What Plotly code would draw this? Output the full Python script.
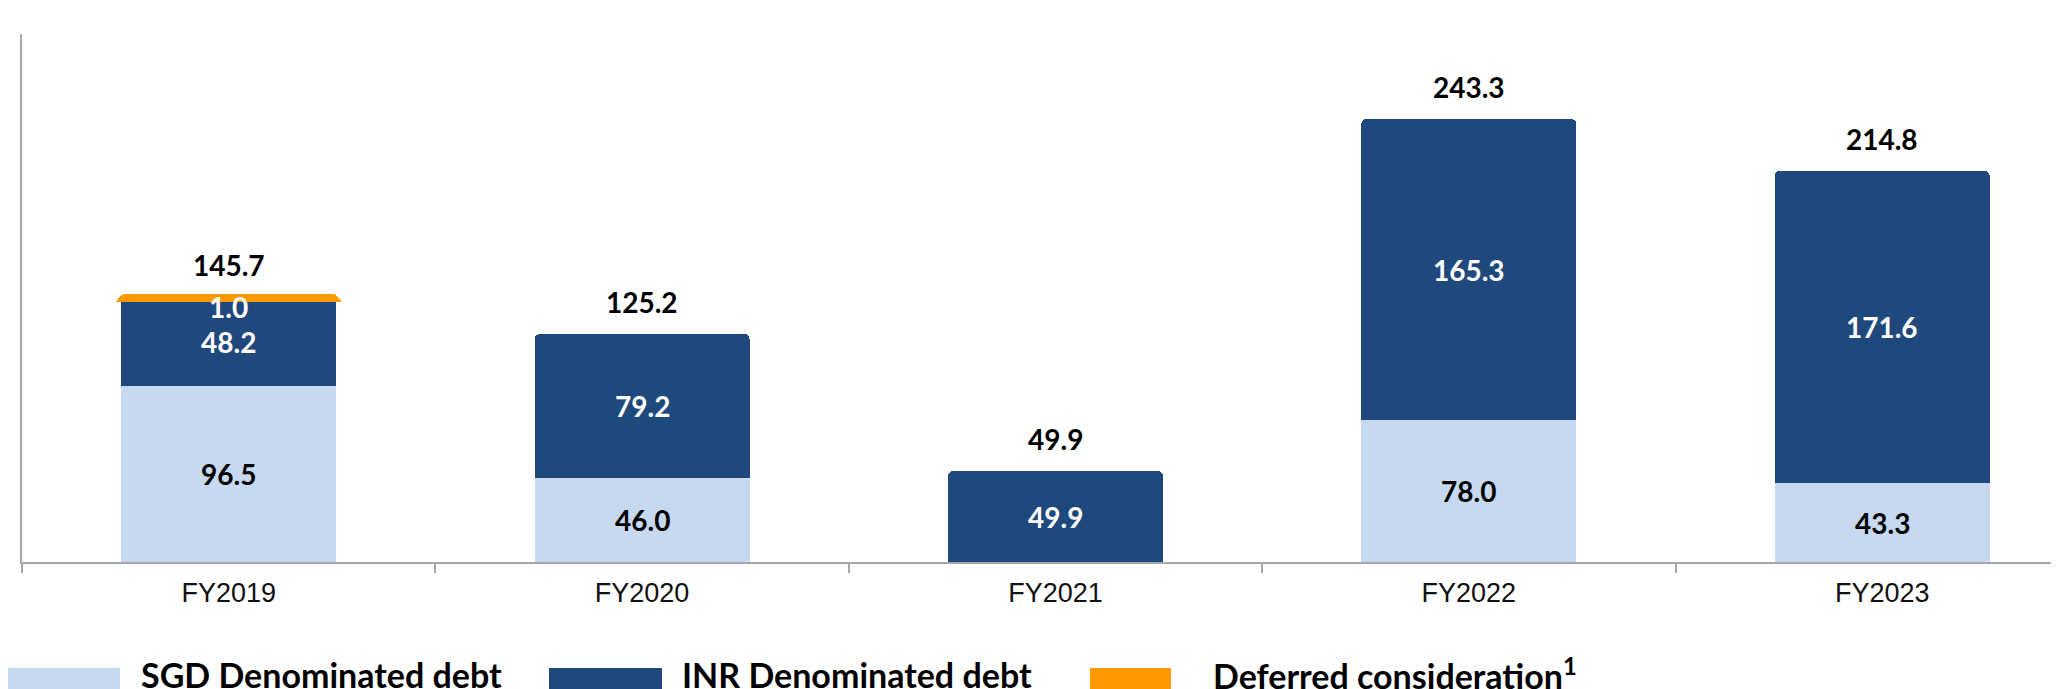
import plotly.graph_objects as go

years = ["FY2019", "FY2020", "FY2021", "FY2022", "FY2023"]
sgd_debt = [96.5, 46.0, None, 78.0, 43.3]
inr_debt = [48.2, 79.2, 49.9, 165.3, 171.6]
deferred = [1.0, None, None, None, None]
totals = [145.7, 125.2, 49.9, 243.3, 214.8]

series = [sgd_debt, inr_debt, deferred]
series_names = ["SGD Denominated debt", "INR Denominated debt",
                "Deferred consideration<sup>1</sup>"]
series_colors = ["#C6D9F1", "#1F497D", "#FF9900"]
label_colors = ["black", "white", "white"]

W, H = 2059, 689
ML, MR, MT, MB = 14, 0, 26, 135
PW, PH = W - ML - MR, H - MT - MB

LABEL_FONT = "Lato, 'Open Sans', sans-serif"

fig = go.Figure()
for vals, name, col in zip(series, series_names, series_colors):
    line_w = 6 if col == "#FF9900" else 0  # thin orange strip is drawn thicker
    fig.add_trace(go.Bar(x=years, y=vals, name=name, width=0.52,
                         marker=dict(color=col, line=dict(color=col, width=line_w)),
                         showlegend=False))

# segment labels
annotations = []
base = [0.0] * len(years)
for k, vals in enumerate(series):
    for i, v in enumerate(vals):
        if v is None:
            continue
        annotations.append(dict(
            x=years[i], y=base[i] + v / 2, xref="x", yref="y",
            text="%.1f" % v, showarrow=False,
            yshift=-9 if k == 2 else 0,
            font=dict(family=LABEL_FONT, size=28, color=label_colors[k], weight=700)))
        base[i] += v

# totals above bars
for i, t in enumerate(totals):
    annotations.append(dict(
        x=years[i], y=base[i], xref="x", yref="y", text="%.1f" % t,
        showarrow=False, yanchor="middle", yshift=32,
        font=dict(family=LABEL_FONT, size=28, color="black", weight=700)))

# legend drawn by hand (big swatches)
def px_x(p):
    return (p - ML) / PW

def px_y(p):
    return (H - MB - p) / PH

swatch_left = [0, 541, 1082]
swatch_right = [112, 654, 1163]
text_left = [131, 672, 1203]
shapes = []
for k in range(3):
    shapes.append(dict(type="rect", xref="paper", yref="paper",
                       x0=px_x(swatch_left[k]), x1=px_x(swatch_right[k]),
                       y0=px_y(660), y1=px_y(705),
                       fillcolor=series_colors[k], line=dict(width=0)))
    annotations.append(dict(
        x=px_x(text_left[k]), y=px_y(666), xref="paper", yref="paper",
        xanchor="left", yanchor="middle", text=series_names[k], showarrow=False,
        font=dict(family=LABEL_FONT, size=34, color="black", weight=700)))

fig.update_layout(
    width=W, height=H,
    margin=dict(l=ML, r=MR, t=MT, b=MB),
    barmode="stack",
    barcornerradius=5,
    plot_bgcolor="white", paper_bgcolor="white",
    showlegend=False,
    annotations=annotations,
    shapes=shapes,
    xaxis=dict(type="category", range=[-0.5, 4.447],
               tickson="boundaries", ticks="outside", ticklen=9,
               tickcolor="#A6A6A6", tickwidth=1.5,
               showline=True, linecolor="#A6A6A6", linewidth=1.5,
               showgrid=False, ticklabelstandoff=6,
               tickfont=dict(family="'Liberation Sans', Arial, sans-serif",
                             size=27, color="#111111")),
    yaxis=dict(range=[0, 290], showline=True, linecolor="#A6A6A6", linewidth=1.5,
               showticklabels=False, showgrid=False, zeroline=False, ticks=""),
)

fig.write_html("out.html")
